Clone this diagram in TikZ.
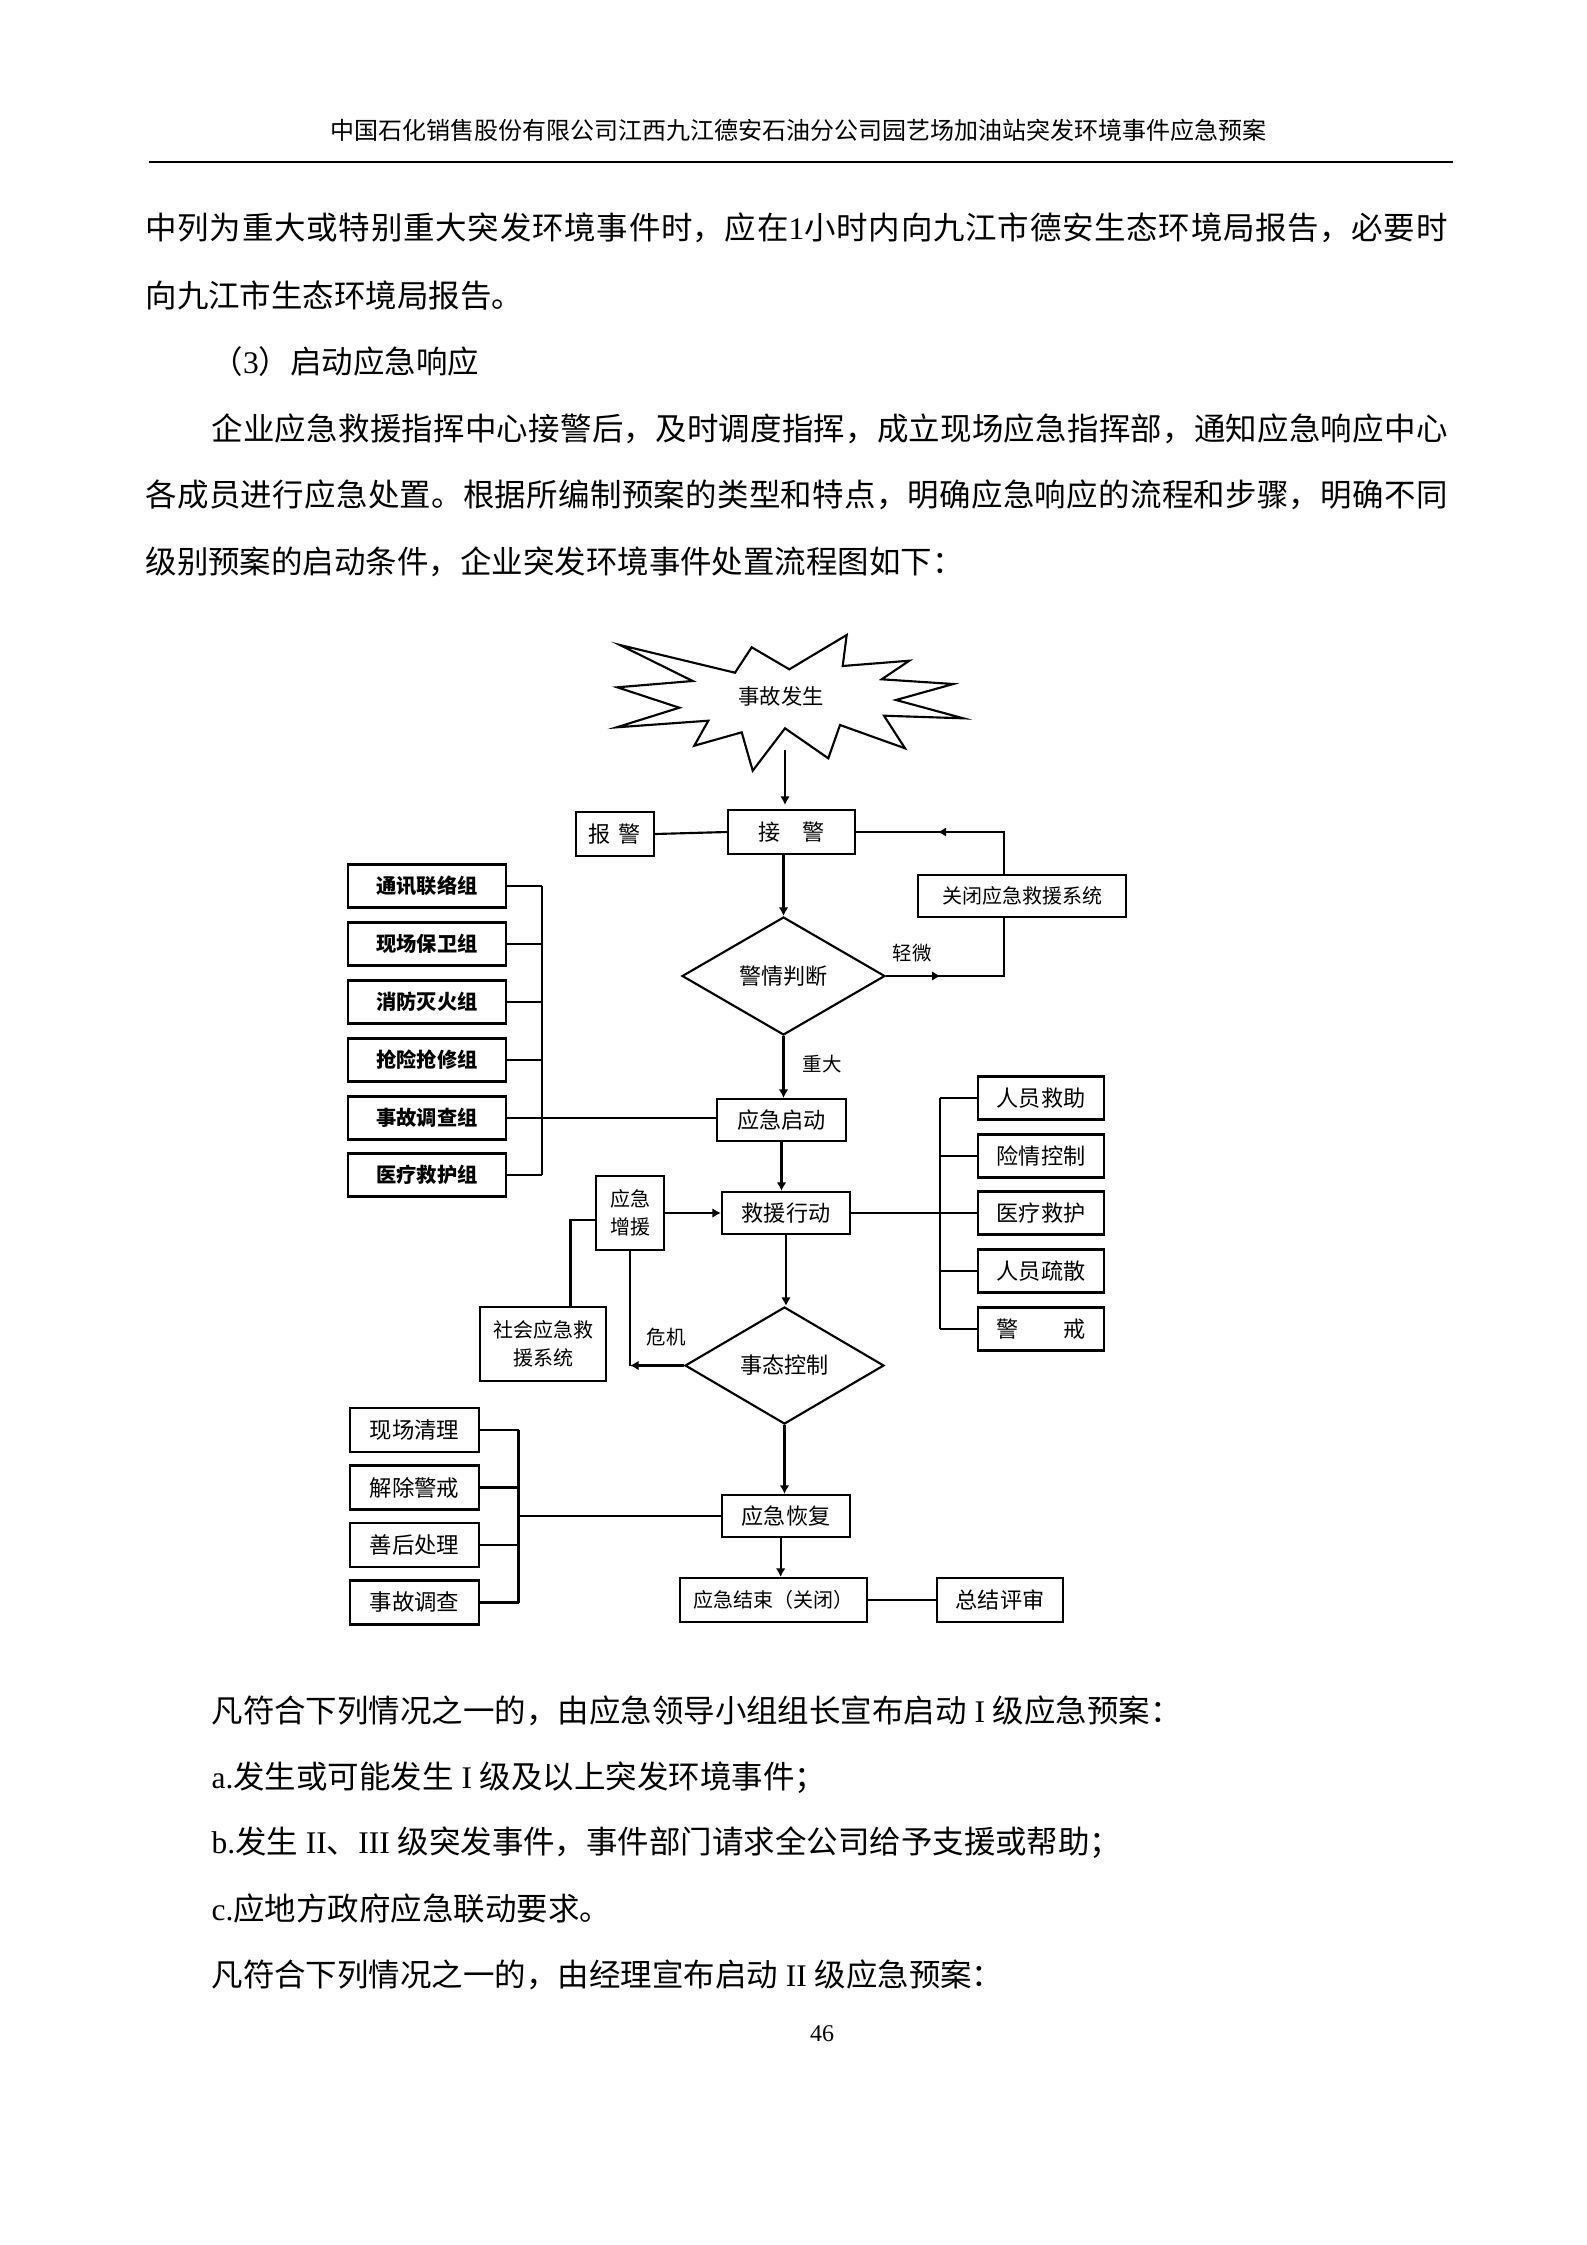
\documentclass[tikz,border=0pt]{standalone}
\usepackage{fontspec}
\setmainfont{Liberation Serif}
\newfontfamily\cjk{Noto Sans CJK SC}
\usetikzlibrary{arrows.meta,shapes.geometric,decorations.markings}

\newcommand\lat[1]{{\rmfamily #1}}
\newcommand\bodyfont{\cjk\fontsize{11.8pt}{14pt}\selectfont}
\newcommand\fl{\cjk\fontsize{7.5pt}{10.4pt}\selectfont}
\newcommand\flm{\cjk\fontsize{8.3pt}{10pt}\selectfont}
\newcommand\flb{\cjk\bfseries\fontsize{7.6pt}{9pt}\selectfont}
\newcommand\fll{\cjk\fontsize{7.3pt}{9pt}\selectfont}
\newcommand\jline[2]{\parbox{#1}{\XeTeXlinebreaklocale "zh"\XeTeXlinebreakskip=0pt plus 4pt\relax\parfillskip=0pt\relax #2}}

\begin{document}
\begin{tikzpicture}[x=0.375pt,y=-0.375pt,
  ln/.style={line width=0.8pt},
  arr/.style={line width=0.8pt,-{Latex[length=3.2pt,width=3.6pt]}},
  midarr/.style={postaction={decorate,decoration={markings,mark=at position #1 with {\arrow{Latex[length=3.2pt,width=3.6pt]}}}}},
  box/.style={draw,line width=0.8pt,inner sep=0pt,font=\flm},
  dia/.style={diamond,draw,line width=0.8pt,inner sep=0pt,aspect=1,font=\flm},
  lbox/.style={box,font=\flb,minimum width=59pt,minimum height=16.1pt},
  rbox/.style={box,minimum width=47.25pt,minimum height=16.1pt},
  bbox/.style={box,font=\cjk\fontsize{8.4pt}{10pt}\selectfont,minimum width=48.4pt,minimum height=16.5pt},
  lab/.style={inner sep=0pt,font=\fll},
  txt/.style={anchor=west,inner sep=0pt,font=\bodyfont}]
\fill[white] (0,0) rectangle (1587,2245);
\useasboundingbox (0,0) rectangle (1587,2245);

% header
\node[inner sep=0pt,font=\cjk\fontsize{9pt}{11pt}\selectfont] (hdr) at (798,130) {中国石化销售股份有限公司江西九江德安石油分公司园艺场加油站突发环境事件应急预案};
\draw[line width=0.6pt] (149,162) -- (1453,162);

% body text top
\node[txt] (t1) at (145,228) {\jline{488.25pt}{中列为重大或特别重大突发环境事件时，应在\lat{1}小时内向九江市德安生态环境局报告，必要时}};
\node[txt] (t2) at (145,296) {向九江市生态环境局报告。};
\node[txt] (t3) at (211,362) {（\lat{3}）启动应急响应};
\node[txt] (t4) at (211,429) {\jline{463.5pt}{企业应急救援指挥中心接警后，及时调度指挥，成立现场应急指挥部，通知应急响应中心}};
\node[txt] (t5) at (145,495) {\jline{488.25pt}{各成员进行应急处置。根据所编制预案的类型和特点，明确应急响应的流程和步骤，明确不同}};
\node[txt] (t6) at (145,562) {级别预案的启动条件，企业突发环境事件处置流程图如下：};

% starburst
\draw[line width=0.8pt,line join=miter] (620,645) -- (735,672.7) -- (751.7,647.3) -- (789.3,669.3) -- (846.7,635) -- (842.7,666) -- (909.3,660.7) -- (881.7,679.3) -- (953.3,684) -- (896,700) -- (963.3,718.3) -- (884,715.7) -- (905,748.3) -- (840,725) -- (828.3,758.3) -- (785,728.3) -- (752.7,770.7) -- (741.7,732.3) -- (694.3,745.7) -- (708.3,720.7) -- (616.7,727.3) -- (679.3,707.7) -- (617.3,687.3) -- (692.7,681) -- cycle;
\node[inner sep=0pt,font=\cjk\fontsize{8pt}{10pt}\selectfont] (star) at (781,696) {事故发生};
\coordinate (sb) at (785,750);

% main column
\node[box,minimum width=29.25pt,minimum height=16.5pt] (bj) at (615,834) {报\hspace{3pt}警};
\node[box,minimum width=47.6pt,minimum height=16.5pt] (jj) at (791.5,832) {接　警};
\node[box,font=\fl,minimum width=78pt,minimum height=15.75pt] (gb) at (1022,896) {关闭应急救援系统};
\node[dia,minimum width=76.1pt,minimum height=44.25pt] (pd) at (783.5,976) {警情判断};
\node[box,minimum width=48.4pt,minimum height=15.75pt] (qd) at (781.5,1120) {应急启动};
\node[box,minimum width=48pt,minimum height=15.75pt] (jy) at (786,1213) {救援行动};
\node[box,font=\fl,align=center,minimum width=25.5pt,minimum height=27.75pt] (zy) at (630,1213) {应急\\增援};
\node[box,font=\fl,align=center,minimum width=47.25pt,minimum height=27.75pt] (sh) at (543,1344) {社会应急救\\援系统};
\node[dia,minimum width=74.6pt,minimum height=43.9pt] (kz) at (784.5,1365.5) {事态控制};
\node[box,minimum width=48pt,minimum height=15.75pt] (hf) at (786,1516) {应急恢复};
\node[box,font=\fl,minimum width=70.1pt,minimum height=16.5pt] (js) at (773.5,1600) {应急结束（关闭）};
\node[box,minimum width=47.25pt,minimum height=16.5pt] (zj) at (1000,1600) {总结评审};

% left group
\node[lbox] (l1) at (427,886) {通讯联络组};
\node[lbox] (l2) at (427,944) {现场保卫组};
\node[lbox] (l3) at (427,1002) {消防灭火组};
\node[lbox] (l4) at (427,1060) {抢险抢修组};
\node[lbox] (l5) at (427,1118) {事故调查组};
\node[lbox] (l6) at (427,1175) {医疗救护组};
\coordinate (lb) at (542,0);

% right group
\node[rbox] (r1) at (1041,1098) {人员救助};
\node[rbox] (r2) at (1041,1156) {险情控制};
\node[rbox] (r3) at (1041,1213) {医疗救护};
\node[rbox] (r4) at (1041,1271) {人员疏散};
\node[rbox] (r5) at (1041,1329) {警　　戒};
\coordinate (rb) at (940,0);

% bottom-left group
\node[bbox] (b1) at (414.5,1430) {现场清理};
\node[bbox] (b2) at (414.5,1487.5) {解除警戒};
\node[bbox] (b3) at (414.5,1545) {善后处理};
\node[bbox] (b4) at (414.5,1602.5) {事故调查};
\coordinate (bb) at (518.5,0);

% connectors
\draw[arr,shorten >=1.5pt] (sb) -- (sb |- jj.north);
\draw[ln] (bj.east) -- (jj.west);
\draw[arr] (jj.south -| pd.north) -- (pd.north);
\coordinate (rx) at (1004,0);
\draw[ln,midarr=0.57] (gb.north -| rx) |- (jj.east);
\draw[ln,midarr=0.31] (pd.east) -| (gb.south -| rx);
\node[lab] (lq) at (912,953) {轻微};
\draw[arr] (pd.south) -- (pd.south |- qd.north);
\node[lab] (lz) at (822,1064) {重大};

\foreach \i in {1,...,6} \draw[ln] (l\i.east) -- (l\i.east -| lb);
\draw[ln] (l1.east -| lb) -- (l6.east -| lb);
\draw[ln] (l5.east) -- (l5.east -| qd.west);

\draw[arr] (qd.south) -- (qd.south |- jy.north);
\draw[ln] (jy.east) -- (r3.west);
\foreach \i in {1,...,5} \draw[ln] (r\i.west) -- (r\i.west -| rb);
\draw[ln] (r1.west -| rb) -- (r5.west -| rb);

\draw[arr] (zy.east) -- (jy.west);
\draw[ln] ([xshift=10.3pt]sh.north) |- ([yshift=-2.6pt]zy.west);
\draw[arr] (jy.south) -- (jy.south |- kz.north);
\coordinate (kc) at (zy.south |- kz.west);
\draw[arr] (kz.west) -- (kc);
\draw[ln] (kc) -- (zy.south);
\node[lab] (lw) at (666,1337) {危机};

\draw[arr] (kz.south) -- (kz.south |- hf.north);
\draw[ln] (hf.west) -- (hf.west -| bb);
\foreach \i in {1,...,4} \draw[ln] (b\i.east) -- (b\i.east -| bb);
\draw[ln] (b1.east -| bb) -- (b4.east -| bb);
\draw[arr] ([xshift=-2pt]hf.south) -- ([xshift=-2pt]hf.south |- js.north);
\draw[ln] (js.east) -- (zj.west);

% body text bottom
\node[txt] (u1) at (211,1711) {凡符合下列情况之一的，由应急领导小组组长宣布启动\lat{~I~}级应急预案：};
\node[txt] (u2) at (211,1778) {\lat{a.}发生或可能发生\lat{~I~}级及以上突发环境事件；};
\node[txt] (u3) at (211,1843) {\lat{b.}发生\lat{~II}、\lat{III~}级突发事件，事件部门请求全公司给予支援或帮助；};
\node[txt] (u4) at (211,1908) {\lat{c.}应地方政府应急联动要求。};
\node[txt] (u5) at (211,1975) {凡符合下列情况之一的，由经理宣布启动\lat{~II~}级应急预案：};
\node[inner sep=0pt,font=\fontsize{9pt}{11pt}\selectfont] (pg) at (822,2034) {46};
\end{tikzpicture}
\end{document}
